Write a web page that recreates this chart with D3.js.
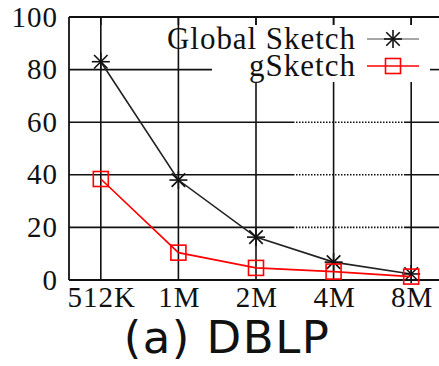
<!DOCTYPE html>
<html lang="en">
<head>
    <meta charset="UTF-8">
    <title>(a) DBLP</title>
    <script src="https://d3js.org/d3.v7.min.js"></script>
    <style>
        body { margin: 0; background: #fff; }
        svg { display: block; }
        .tick-label { font-family: 'Liberation Serif', 'DejaVu Serif', serif; font-size: 29px; letter-spacing: 1px; fill: #111; }
        .legend-label { font-family: 'Liberation Serif', 'DejaVu Serif', serif; font-size: 31px; fill: #111; }
        .caption { font-family: 'DejaVu Sans', sans-serif; font-size: 45px; letter-spacing: 1.5px; fill: #111; }
    </style>
</head>
<body>
    <svg id="chart" width="439" height="366"></svg>

    <script>
        // sketch sizes on the x axis
        const sizes = ["512K", "1M", "2M", "4M", "8M"];
        // values
        const globalSketch = [83, 38, 16.3, 6.8, 2.3];
        const gSketch = [38.4, 10.4, 4.6, 3.2, 1.3];
        const yTicks = [0, 20, 40, 60, 80, 100];
        const seriesNames = ["Global Sketch", "gSketch"];

        const width = 439;
        const height = 366;
        const plotLeft = 69, plotRight = 443, plotTop = 17, plotBottom = 280;

        const svg = d3.select("#chart");

        const x = d3.scalePoint().domain(sizes).range([plotLeft, plotRight]).padding(0.41);
        const y = d3.scaleLinear().domain([0, 100]).range([plotBottom, plotTop]);

        const grid = svg.append("g").attr("stroke", "#111").attr("stroke-width", 1.6);

        // horizontal grid (the middle stretch looks dotted in the picture)
        yTicks.filter(d => d > 0 && d < 100).forEach(d => {
            if (d === 80) {
                grid.append("line").attr("x1", plotLeft).attr("x2", 212).attr("y1", y(d)).attr("y2", y(d));
                grid.append("line").attr("x1", 430).attr("x2", width).attr("y1", y(d)).attr("y2", y(d));
            } else {
                grid.append("line").attr("x1", plotLeft).attr("x2", 293).attr("y1", y(d)).attr("y2", y(d));
                grid.append("line").attr("x1", 293).attr("x2", 405).attr("y1", y(d)).attr("y2", y(d))
                    .attr("stroke-dasharray", "1.5,1.5");
                grid.append("line").attr("x1", 405).attr("x2", width).attr("y1", y(d)).attr("y2", y(d));
            }
        });

        // vertical grid
        sizes.forEach(s => {
            grid.append("line").attr("x1", x(s)).attr("x2", x(s)).attr("y1", plotTop).attr("y2", plotBottom);
        });

        // legend area hides the grid
        svg.append("rect").attr("x", 212).attr("y", 25).attr("width", 218).attr("height", 57).attr("fill", "#fff");

        // frame: top, left, bottom
        const frame = svg.append("g").attr("stroke", "#111").attr("stroke-width", 1.8).attr("fill", "none");
        frame.append("line").attr("x1", plotLeft).attr("x2", width).attr("y1", plotTop).attr("y2", plotTop);
        frame.append("line").attr("x1", plotLeft).attr("x2", plotLeft).attr("y1", plotTop).attr("y2", plotBottom);
        frame.append("line").attr("x1", plotLeft).attr("x2", width).attr("y1", plotBottom).attr("y2", plotBottom);

        // y tick labels
        svg.append("g").selectAll("text")
            .data(yTicks)
            .join("text")
            .attr("class", "tick-label")
            .attr("x", 58)
            .attr("y", d => y(d))
            .attr("dy", "0.33em")
            .attr("text-anchor", "end")
            .text(d => d);

        // x tick labels
        svg.append("g").selectAll("text")
            .data(sizes)
            .join("text")
            .attr("class", "tick-label")
            .attr("x", d => x(d) + 1)
            .attr("y", 307)
            .attr("text-anchor", "middle")
            .text(d => d);

        const line = d3.line().x((d, i) => x(sizes[i])).y(d => y(d));

        // star marker
        function star(g, cx, cy, r) {
            const p = g.append("g").attr("stroke", "#111").attr("stroke-width", 1.6);
            p.append("line").attr("x1", cx - r).attr("x2", cx + r).attr("y1", cy).attr("y2", cy);
            p.append("line").attr("x1", cx).attr("x2", cx).attr("y1", cy - r).attr("y2", cy + r);
            p.append("line").attr("x1", cx - r * 0.75).attr("x2", cx + r * 0.75).attr("y1", cy - r * 0.75).attr("y2", cy + r * 0.75);
            p.append("line").attr("x1", cx - r * 0.75).attr("x2", cx + r * 0.75).attr("y1", cy + r * 0.75).attr("y2", cy - r * 0.75);
        }
        function square(g, cx, cy, r) {
            g.append("rect").attr("x", cx - r).attr("y", cy - r).attr("width", 2 * r).attr("height", 2 * r)
                .attr("fill", "none").attr("stroke", "#f00").attr("stroke-width", 1.6);
        }

        // Global Sketch
        svg.append("path").datum(globalSketch)
            .attr("d", line).attr("fill", "none").attr("stroke", "#222").attr("stroke-width", 1.6);
        const gm = svg.append("g");
        globalSketch.forEach((v, i) => star(gm, x(sizes[i]), y(v), 9));

        // gSketch
        svg.append("path").datum(gSketch)
            .attr("d", line).attr("fill", "none").attr("stroke", "#f00").attr("stroke-width", 1.6);
        const rm = svg.append("g");
        gSketch.forEach((v, i) => square(rm, x(sizes[i]), y(v), 7.5));

        // legend (the picture's legend text is set wider than plain Times)
        const legend = svg.append("g");
        const rows = [39, 66];
        const labelWidths = [188, 106];
        seriesNames.forEach((name, i) => {
            legend.append("text").attr("class", "legend-label")
                .attr("x", 355 - labelWidths[i]).attr("y", rows[i]).attr("dy", "0.33em")
                .attr("textLength", labelWidths[i]).attr("lengthAdjust", "spacing")
                .text(name);
            legend.append("line").attr("x1", 367).attr("x2", 419).attr("y1", rows[i]).attr("y2", rows[i])
                .attr("stroke", i === 0 ? "#888" : "#f00").attr("stroke-width", 1.6);
            if (i === 0) star(legend, 393, rows[i], 9);
            else square(legend, 393, rows[i], 7.5);
        });
        // top mirror ticks
        sizes.forEach(s => {
            svg.append("line").attr("x1", x(s)).attr("x2", x(s)).attr("y1", plotTop).attr("y2", plotTop + 8)
                .attr("stroke", "#111").attr("stroke-width", 1.6);
        });

        // caption
        svg.append("text").attr("class", "caption")
            .attr("x", 227).attr("y", 353)
            .attr("text-anchor", "middle")
            .text("(a) DBLP");
    </script>
</body>
</html>
